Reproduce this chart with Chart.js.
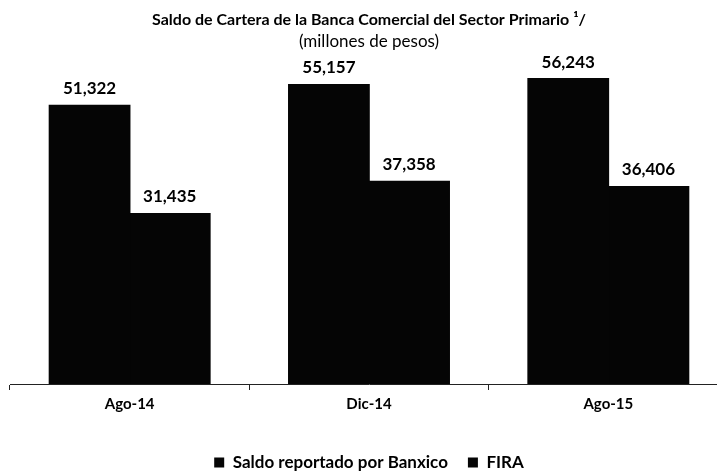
<!DOCTYPE html>
<html lang="es">
<head>
<meta charset="UTF-8" />
<title>Saldo de Cartera</title>
<script src="https://cdn.jsdelivr.net/npm/chart.js"></script>
<style>
  body { margin: 0; background: #fff; overflow: hidden; }
  #wrap { width: 740px; height: 475px; }
</style>
</head>
<body>
<div id="wrap"><canvas id="chart" width="740" height="475"></canvas></div>
<script>
  const categories = ["Ago-14", "Dic-14", "Ago-15"];
  const banxico = [51322, 55157, 56243];
  const fira = [31435, 37358, 36406];
  const seriesNames = ["Saldo reportado por Banxico", "FIRA"];

  const font = "Lato, 'Open Sans', sans-serif";

  // draws the value above each bar
  const valueLabels = {
    id: "valueLabels",
    afterDatasetsDraw(chart) {
      const ctx = chart.ctx;
      ctx.save();
      ctx.font = "bold 17px " + font;
      ctx.fillStyle = "#000";
      ctx.textAlign = "center";
      ctx.textBaseline = "middle";
      chart.data.datasets.forEach((ds, i) => {
        chart.getDatasetMeta(i).data.forEach((bar, j) => {
          ctx.fillText(ds.data[j].toLocaleString("en-US"), bar.x, bar.y - 16);
        });
      });
      ctx.restore();
    }
  };

  new Chart(document.getElementById("chart"), {
    type: "bar",
    data: {
      labels: categories,
      datasets: [
        { label: seriesNames[0], data: banxico, backgroundColor: "#050505" },
        { label: seriesNames[1], data: fira, backgroundColor: "#050505" }
      ]
    },
    options: {
      responsive: false,
      animation: false,
      categoryPercentage: 0.67,
      barPercentage: 1.02,
      layout: { padding: { left: 10, right: 12, top: 6, bottom: -6 } },
      plugins: {
        title: {
          display: true,
          text: "Saldo de Cartera de la Banca Comercial del Sector Primario \u00B9/",
          color: "#000",
          font: { family: font, size: 16, weight: "bold" },
          padding: { top: 4, bottom: 2 }
        },
        subtitle: {
          display: true,
          text: "(millones de pesos)",
          color: "#000",
          font: { family: font, size: 17 },
          padding: { top: 0, bottom: 6 }
        },
        legend: {
          position: "bottom",
          labels: {
            color: "#000",
            font: { family: font, size: 17, weight: "bold" },
            boxWidth: 10,
            boxHeight: 10,
            padding: 20
          }
        },
        tooltip: { enabled: false }
      },
      scales: {
        x: {
          grid: { display: true, drawOnChartArea: false, tickLength: 6, color: "#222" },
          border: { display: true, color: "#222", width: 1 },
          ticks: { color: "#000", font: { family: font, size: 15, weight: "bold" }, padding: 5 },
          afterFit(scale) { scale.height = 50; }
        },
        y: {
          display: false,
          min: 0,
          max: 60000
        }
      }
    },
    plugins: [valueLabels]
  });
</script>
</body>
</html>
